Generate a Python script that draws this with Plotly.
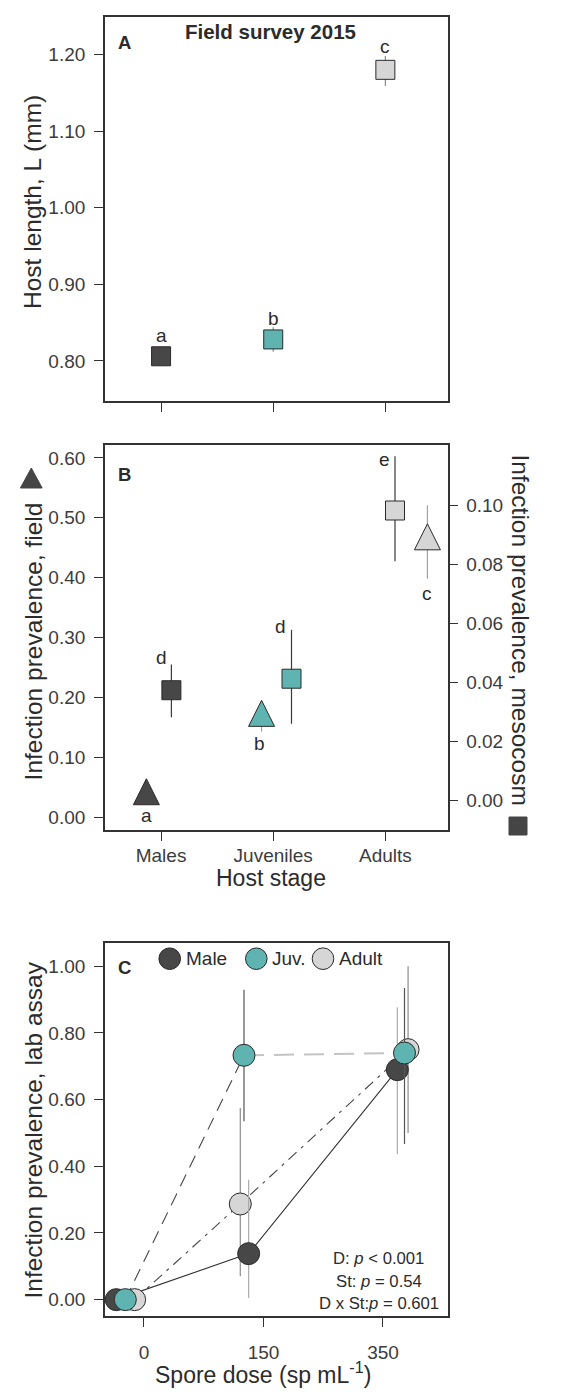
import plotly.graph_objects as go

# ---------------- data ----------------
stages = ["Males", "Juveniles", "Adults"]

# Panel A: host length (mm)
length_mean = [0.806, 0.828, 1.180]
length_err_hi = [0.010, 0.016, 0.018]
length_err_lo = [0.010, 0.016, 0.021]
length_letters = ["a", "b", "c"]

# Panel B: field prevalence (triangles, left axis)
field_prev = [0.035, 0.166, 0.461]
field_err_hi = [0.005, 0.020, 0.060]
field_err_lo = [0.005, 0.023, 0.063]
field_letters = ["a", "b", "c"]

# Panel B: mesocosm prevalence (squares, right axis)
meso_prev = [0.0373, 0.0412, 0.0982]
meso_err_hi = [0.0087, 0.0166, 0.0184]
meso_err_lo = [0.0092, 0.0153, 0.0172]
meso_letters = ["d", "d", "e"]

# Panel C: lab assay
doses = ["0", "150", "350"]
lab_groups = ["Male", "Juv.", "Adult"]
lab_male = [0.0, 0.138, 0.690]
lab_male_hi = [0.0, 0.222, 0.187]
lab_male_lo = [0.0, 0.133, 0.253]
lab_juv = [0.0, 0.733, 0.740]
lab_juv_hi = [0.0, 0.197, 0.195]
lab_juv_lo = [0.0, 0.198, 0.273]
lab_adult = [0.0, 0.287, 0.750]
lab_adult_hi = [0.0, 0.288, 0.250]
lab_adult_lo = [0.0, 0.217, 0.250]
stats_lines = ["D: <i>p</i> < 0.001", "St: <i>p</i> = 0.54", "D x St:<i>p</i> = 0.601"]

# ---------------- styles / layout helpers ----------------
W, H = 586, 1395
FONT = "Liberation Sans, Arial, Helvetica, sans-serif"
DARK, TEAL, LIGHT = "#474747", "#5fb4b2", "#d6d6d6"
stage_colors = [DARK, TEAL, LIGHT]
EDGE = "#2a2a2a"
AX = "#333333"
TXT = "#2b2b2b"
TRI_SIZE = 26

field_dodge = [-0.131, -0.104, 0.375]
meso_dodge = [0.092, 0.163, 0.086]
dodge_male = [-0.232, -0.124, 0.12]
dodge_juv = [-0.156, -0.163, 0.18]
dodge_adult = [-0.078, -0.194, 0.21]


def fx(p):
    return p / W


def fy(p):
    return 1 - p / H


idx = list(range(len(stages)))
didx = list(range(len(doses)))

fig = go.Figure()

# ---- Panel A ----
fig.add_trace(go.Scatter(
    x=idx, y=length_mean, mode="markers", xaxis="x", yaxis="y",
    marker=dict(symbol="square", size=19, color=stage_colors, line=dict(color=EDGE, width=1)),
    error_y=dict(type="data", symmetric=False, array=length_err_hi, arrayminus=length_err_lo,
                 color="#8a8a8a", thickness=1.2, width=0),
    showlegend=False))

# ---- Panel B ----
fig.add_trace(go.Scatter(
    x=[i + d for i, d in zip(idx, meso_dodge)], y=meso_prev, mode="markers", xaxis="x2", yaxis="y4",
    marker=dict(symbol="square", size=19, color=stage_colors, line=dict(color=EDGE, width=1)),
    error_y=dict(type="data", symmetric=False, array=meso_err_hi, arrayminus=meso_err_lo,
                 color="#3a3a3a", thickness=1.2, width=0),
    showlegend=False))
# upward triangle (arrow-down rotated 180 deg), shifted so its centroid sits on the value
fig.add_trace(go.Scatter(
    x=[i + d for i, d in zip(idx, field_dodge)], y=field_prev, mode="markers", xaxis="x2", yaxis="y2",
    marker=dict(symbol="arrow-down", angle=180, size=TRI_SIZE, standoff=TRI_SIZE * 2 / 3,
                color=stage_colors, line=dict(color=EDGE, width=1)),
    error_y=dict(type="data", symmetric=False, array=field_err_hi, arrayminus=field_err_lo,
                 color="#a0a0a0", thickness=1.2, width=0),
    showlegend=False))

# ---- Panel C: connecting lines ----
xm = [i + d for i, d in zip(didx, dodge_male)]
xj = [i + d for i, d in zip(didx, dodge_juv)]
xa = [i + d for i, d in zip(didx, dodge_adult)]

fig.add_trace(go.Scatter(x=xm, y=lab_male, mode="lines", xaxis="x3", yaxis="y3",
                         line=dict(color="#333333", width=1.1), showlegend=False))
fig.add_trace(go.Scatter(x=xa, y=lab_adult, mode="lines", xaxis="x3", yaxis="y3",
                         line=dict(color="#444444", width=1.1, dash="11px,6px,3px,6px"), showlegend=False))
fig.add_trace(go.Scatter(x=xj[:2], y=lab_juv[:2], mode="lines", xaxis="x3", yaxis="y3",
                         line=dict(color="#444444", width=1.1, dash="13px,8px"), showlegend=False))
fig.add_trace(go.Scatter(x=xj[1:], y=lab_juv[1:], mode="lines", xaxis="x3", yaxis="y3",
                         line=dict(color="#c4c4c4", width=2, dash="20px,10px"), showlegend=False))

# ---- Panel C: points ----
for xs, ys, hi, lo, col, ecol in [
    (xa, lab_adult, lab_adult_hi, lab_adult_lo, LIGHT, "#8c8c8c"),
    (xm, lab_male, lab_male_hi, lab_male_lo, DARK, "#ababab"),
    (xj, lab_juv, lab_juv_hi, lab_juv_lo, TEAL, "#555555"),
]:
    fig.add_trace(go.Scatter(
        x=xs, y=ys, mode="markers", xaxis="x3", yaxis="y3",
        marker=dict(symbol="circle", size=22, color=col, line=dict(color=EDGE, width=1)),
        error_y=dict(type="data", symmetric=False, array=hi, arrayminus=lo,
                     color=ecol, thickness=1.2, width=0),
        showlegend=False))

# ---------------- axes ----------------
common = dict(showline=True, linecolor=AX, linewidth=1.7, mirror=True, ticks="outside",
              ticklen=9, tickwidth=1.3, tickcolor=AX, showgrid=False, zeroline=False,
              tickfont=dict(family=FONT, size=19, color="#3c3c3c"))
no_mirror = {k: v for k, v in common.items() if k != "mirror"}

xdom = [fx(97), fx(439.5)]
xrange_ab = [-0.5, 2.554]

fig.update_layout(
    width=W, height=H, margin=dict(l=0, r=0, t=0, b=0),
    paper_bgcolor="white", plot_bgcolor="white", showlegend=False,
    font=dict(family=FONT, color=TXT),
    xaxis=dict(domain=xdom, anchor="y", range=xrange_ab, tickvals=idx, showticklabels=False, **common),
    yaxis=dict(domain=[fy(392.7), fy(9)], anchor="x", range=[0.748, 1.249],
               tickvals=[0.8, 0.9, 1.0, 1.1, 1.2], tickformat=".2f", ticklabelstandoff=5, **common),
    xaxis2=dict(domain=xdom, anchor="y2", range=xrange_ab, tickvals=idx, ticktext=stages,
                ticklabelstandoff=-1, **common),
    yaxis2=dict(domain=[fy(821.7), fy(437.3)], anchor="x2", range=[-0.0212, 0.6212],
                tickvals=[0, 0.1, 0.2, 0.3, 0.4, 0.5, 0.6], tickformat=".2f", ticklabelstandoff=5, **common),
    yaxis4=dict(overlaying="y2", anchor="x2", side="right", range=[-0.00997, 0.1203],
                tickvals=[0, 0.02, 0.04, 0.06, 0.08, 0.10], tickformat=".2f", ticklabelstandoff=4,
                **no_mirror),
    xaxis3=dict(domain=[fx(97), fx(440)], anchor="y3", range=[-0.326, 2.544],
                tickvals=didx, ticktext=doses, ticklabelstandoff=9, **common),
    yaxis3=dict(domain=[fy(1308.3), fy(935)], anchor="x3", range=[-0.05, 1.07],
                tickvals=[0, 0.2, 0.4, 0.6, 0.8, 1.0], tickformat=".2f", ticklabelstandoff=5, **common),
)

# ---------------- annotations ----------------
ann = []


def text(px_x, px_y, s, size, bold=False, angle=0, xanchor="center", color=TXT):
    ann.append(dict(x=fx(px_x), y=fy(px_y), xref="paper", yref="paper", text=("<b>%s</b>" % s) if bold else s,
                    showarrow=False, xanchor=xanchor, yanchor="middle", textangle=angle,
                    font=dict(family=FONT, size=size, color=color)))


# titles and panel letters
text(262.5, 23.3, "Field survey 2015", 20.5, bold=True)
text(116, 34.3, "A", 18.5, bold=True)
text(116, 466.7, "B", 18.5, bold=True)
text(116, 959.3, "C", 18.5, bold=True)

# axis titles
text(25, 194, "Host length, L (mm)", 24.5, angle=-90)
text(25, 633.4, "Infection prevalence, field", 24.5, angle=-90)
text(512, 621.5, "Infection prevalence, mesocosm", 24.5, angle=90)
text(263.3, 870, "Host stage", 23)
text(25, 1122.5, "Infection prevalence, lab assay", 24.5, angle=-90)
text(255, 1365, "Spore dose (sp mL<sup>-1</sup>)", 23)

# significance letters
for (px_x, px_y), s in zip([(153, 327.3), (265, 310), (376.7, 38.3)], length_letters):
    text(px_x, px_y, s, 19)
for (px_x, px_y), s in zip([(138.3, 807.7), (251, 735), (419, 585)], field_letters):
    text(px_x, px_y, s, 19)
for (px_x, px_y), s in zip([(153.3, 650), (272.3, 618), (376.7, 451.7)], meso_letters):
    text(px_x, px_y, s, 19)

# legend text
for px_x, s in zip([175.5, 262, 329], lab_groups):
    text(px_x, 950.7, s, 19, xanchor="left")

# stats
for px_y, s in zip([1250, 1273.3, 1295], stats_lines):
    text(370.7, px_y, s, 16.7)

fig.update_layout(annotations=ann)

# ---------------- decorative symbols (legend swatches, axis-title keys) ----------------
shapes = []
for cx, col in zip([161.7, 248.3, 315], stage_colors):
    r = 10.8
    shapes.append(dict(type="circle", xref="paper", yref="paper",
                       x0=fx(cx - r), x1=fx(cx + r), y0=fy(950.7 + r), y1=fy(950.7 - r),
                       fillcolor=col, line=dict(color=EDGE, width=1)))
# triangle key for left title of panel B
tx, ty, tw, th = 23.3, 470, 21.7, 20
shapes.append(dict(type="path", xref="paper", yref="paper",
                   path="M %f,%f L %f,%f L %f,%f Z" % (fx(tx - tw / 2), fy(ty + th / 2), fx(tx + tw / 2),
                                                       fy(ty + th / 2), fx(tx), fy(ty - th / 2)),
                   fillcolor="#454545", line=dict(color="#454545", width=1)))
# square key for right title of panel B
sx, sy, ss = 510, 818, 18
shapes.append(dict(type="rect", xref="paper", yref="paper",
                   x0=fx(sx - ss / 2), x1=fx(sx + ss / 2), y0=fy(sy + ss / 2), y1=fy(sy - ss / 2),
                   fillcolor="#454545", line=dict(color="#454545", width=1)))
fig.update_layout(shapes=shapes)

fig.write_html("out.html")
